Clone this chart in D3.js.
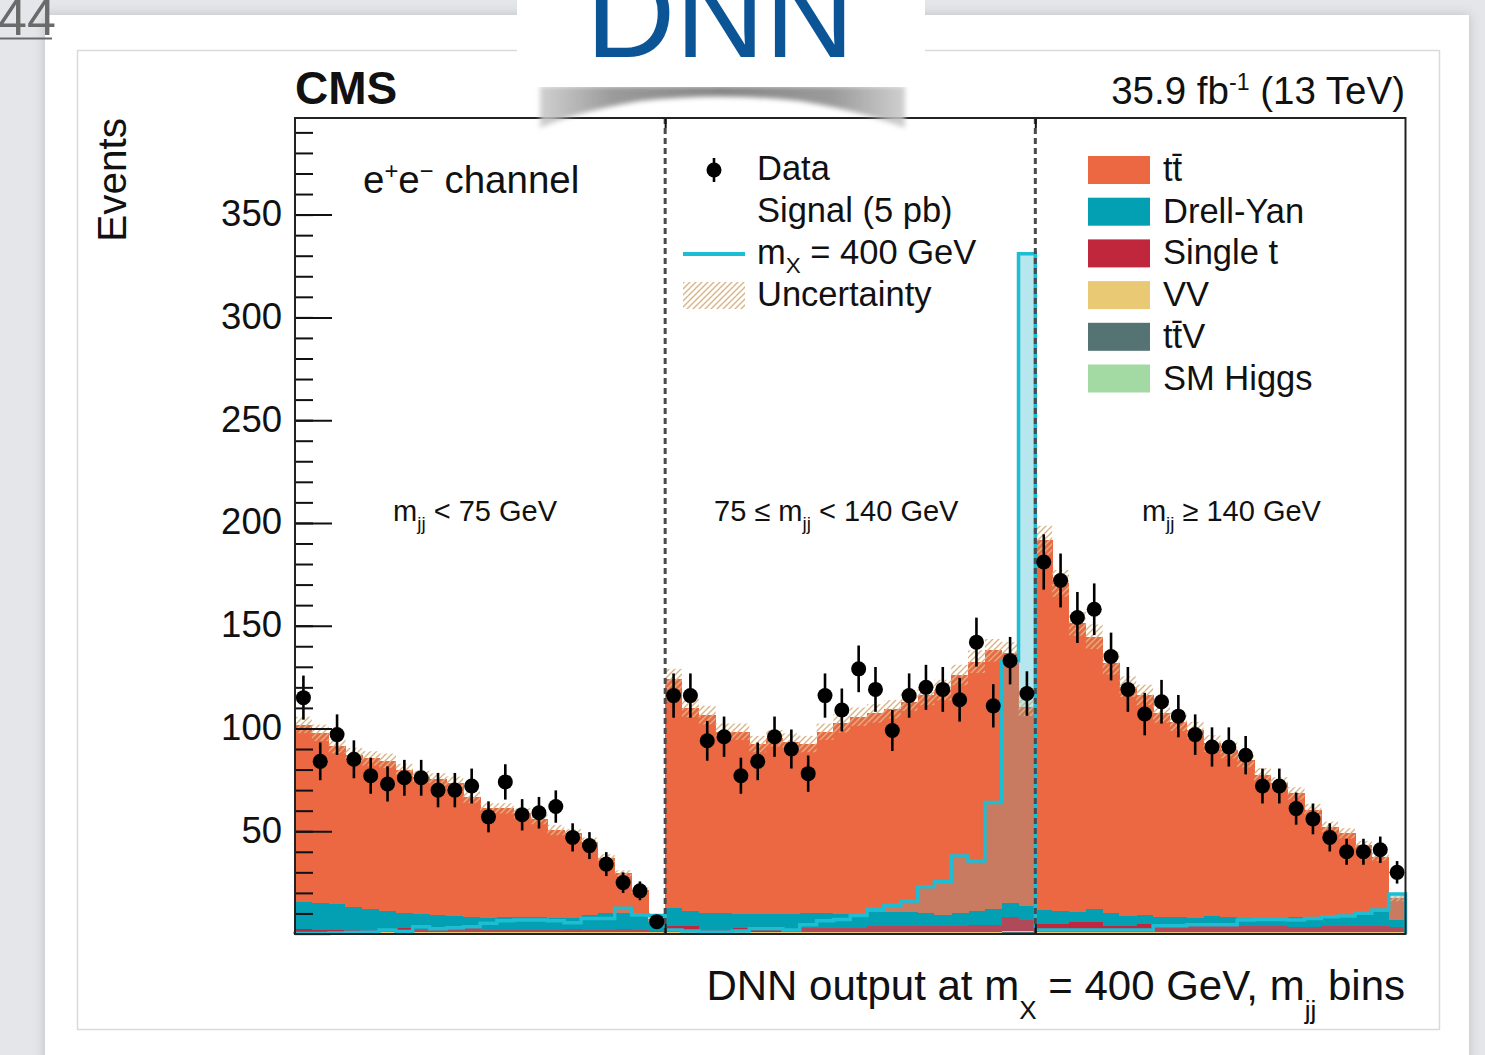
<!DOCTYPE html>
<html><head><meta charset="utf-8">
<script src="https://cdn.jsdelivr.net/npm/d3@7"></script>
<style>
html,body{margin:0;padding:0;background:#e4e6e9;}
svg{display:block;}
text{font-family:"Liberation Sans",Arial,Helvetica,sans-serif;}
</style></head>
<body>
<svg id="c" width="1485" height="1055"></svg>
<script>
// ---------------- data (66 bins: 3 m_jj regions x 22 DNN bins) ----------------
const dataEvents = [115,84,97,85,77,73,76,76,70,70,72,57,74,58,59,62,47,43,34,25,21,6,
  116,116,94,96,77,84,96,90,78,116,109,129,119,99,116,120,119,114,142,111,133,117,
  181,172,154,158,135,119,107,113,106,97,91,91,87,72,72,61,56,47,40,40,41,30];
const ttbar = [86,82.7,76.8,73.8,73.3,73,69.4,66.9,66,64.8,58.7,53.5,53,50.6,47.5,43,41.4,35.7,26.7,19.4,12.4,1.5,
  111.5,98.7,96.4,88.3,88.7,82.7,85.5,83.9,82.3,88.3,92.8,96.5,96.4,98.4,102.1,106.2,109.5,115.9,121.2,126,121.6,97,
  179.9,159.2,140.2,132.5,121.6,111.6,107.1,98.9,94.9,91.6,84,81.1,77,70.5,65.7,60,52.7,43.8,39.8,33.2,26.7,10.4];
const drellYan = [13.3,13.3,12.7,11.4,10.2,9.4,7.5,7.7,7.3,6.9,5.2,5.7,6.2,6.2,6.5,5.7,5.2,7.3,8.2,7.7,7.1,4.6,
  8.6,7.4,8.2,8.2,6.8,6.8,6.8,7.3,7.2,7.2,6.8,6.3,7.0,7.0,7.0,6.2,5.3,6.2,6.9,7.6,6.4,6.6,
  6.8,6.5,5.0,6.2,6.2,4.8,4.3,4.5,4.5,3.2,4.3,4.5,3.7,2.9,3.7,5.0,4.2,4.5,5.3,6.2,7.0,3.6];
const singleTop = [1.5,1,1,1,1,1,2,1,1,1,2,1,1,1,1,1,1.5,1,1,1.5,1,0.5,
  3,3,1,1,2,2,2,1.5,2,2,2,2,3,3,3,3,3,3,3.5,3.5,7,5.5,
  4,4,5,5,3,3,4,3,3,3.5,3.5,3,3,3,3,2.5,2.5,3,3,3,3,2.5];
const diboson = [0.5,0.5,0.5,0.5,0.5,0.5,0.5,0.5,0.5,0.5,0.5,0.5,0.5,0.5,0.5,0.5,0.5,0.5,0.5,0.5,0.5,0.5,
  0.5,0.5,0.5,0.5,0.5,0.5,0.5,0.5,0.5,0.5,0.5,0.5,0.5,0.5,0.5,0.5,0.5,0.5,0.5,0.5,0.5,0.5,
  0.5,0.5,0.5,0.5,0.5,0.5,0.5,0.5,0.5,0.5,0.5,0.5,0.5,0.5,0.5,0.5,0.5,0.5,0.5,0.5,0.5,0.5];
const ttV = [0.3,0.3,0.3,0.3,0.3,0.3,0.3,0.3,0.3,0.3,0.3,0.3,0.3,0.3,0.3,0.3,0.3,0.3,0.3,0.3,0.3,0.3,
  0.3,0.3,0.3,0.3,0.3,0.3,0.3,0.3,0.3,0.3,0.3,0.3,0.3,0.3,0.3,0.3,0.3,0.3,0.3,0.3,0.3,0.3,
  0.3,0.3,0.3,0.3,0.3,0.3,0.3,0.3,0.3,0.3,0.3,0.3,0.3,0.3,0.3,0.3,0.3,0.3,0.3,0.3,0.3,0.3];
const smHiggs = [0.1,0.1,0.1,0.1,0.1,0.1,0.1,0.1,0.1,0.1,0.1,0.1,0.1,0.1,0.1,0.1,0.1,0.1,0.1,0.1,0.1,0.1,
  0.1,0.1,0.1,0.1,0.1,0.1,0.1,0.1,0.1,0.1,0.1,0.1,0.1,0.1,0.1,0.1,0.1,0.1,0.1,0.1,0.7,0.7,
  0.1,0.1,0.1,0.1,0.1,0.1,0.1,0.1,0.1,0.1,0.1,0.1,0.1,0.1,0.1,0.1,0.1,0.1,0.1,0.1,0.1,0.1];
const signal400 = [0.2,0.2,0.5,0.8,1,2,1.2,3.5,2.5,3,3.5,5.2,6.5,6.8,6.8,6.5,5.5,7.6,7.6,12.5,9.2,9,
  2,1.5,1,1,1.5,2.5,2.5,2,4.5,6.5,7,9,12,14,16,23,25.5,38,35.5,64,133,331,
  2,2,2,2,2,2,2,4,4,4.5,4.5,4.5,6.8,7,7,6.8,7.6,8.4,8.8,10.1,11.7,19.5];
const bkgUnc = [4,4,3.5,3.5,3.5,3.5,3,3,3,3,3,2.5,2.5,2.5,2.5,2.5,2,2,2,1.5,1.5,1,
  5,4.5,4.5,4,4,4,4,4,4,4,4.5,4.5,4.5,4.5,4.5,5,5,5,5.5,5.5,5.5,4.5,
  7,6.5,6,6,5.5,5,5,4.5,4.5,4,4,4,3.5,3.5,3,3,3,2.5,2.5,2,2,1.5];
const regionEdges = [22, 44];
const regionLabels = [["m","jj"," < 75 GeV"],["75 \u2264 m","jj"," < 140 GeV"],["m","jj"," \u2265 140 GeV"]];
const yTicks = [50,100,150,200,250,300,350];
const bkgKeys = ["smHiggs","ttV","diboson","singleTop","drellYan","ttbar"];
const bkgNames = {ttbar:"tt\u0304", drellYan:"Drell-Yan", singleTop:"Single t", diboson:"VV", ttV:"tt\u0304V", smHiggs:"SM Higgs"};
const legendOrder = ["ttbar","drellYan","singleTop","diboson","ttV","smHiggs"];

// ---------------- styles ----------------
const colors = {ttbar:"#eb6842", drellYan:"#02a0b2", singleTop:"#c1273c", diboson:"#e9c974", ttV:"#557373", smHiggs:"#a3d9a3"};
const sigColor = "#1dbdd3", sigAbove = "#b6e6ee", sigOver = "#c97b62", sigOverLow = "#b04a5a", hatchColor = "#d9b385";

const svg = d3.select("#c");
const defs = svg.append("defs");
const pat = defs.append("pattern").attr("id","hatch").attr("patternUnits","userSpaceOnUse").attr("width",6).attr("height",6);
pat.append("path").attr("d","M-1,1 l2,-2 M0,6 l6,-6 M5,7 l2,-2").attr("stroke",hatchColor).attr("stroke-width",1.4);
const blur = defs.append("filter").attr("id","blur").attr("x","-20%").attr("y","-50%").attr("width","140%").attr("height","200%");
blur.append("feGaussianBlur").attr("stdDeviation",2.5);
const soft = defs.append("filter").attr("id","soft").attr("x","-5%").attr("y","-5%").attr("width","110%").attr("height","110%");
soft.append("feDropShadow").attr("dx",0).attr("dy",0).attr("stdDeviation",6).attr("flood-color","#000").attr("flood-opacity",0.18);
const sg = defs.append("linearGradient").attr("id","shadowGrad").attr("x1",0).attr("x2",1).attr("y1",0).attr("y2",0);
[[0,"#c8c8c8"],[0.2,"#8a8a8a"],[0.5,"#707070"],[0.8,"#8a8a8a"],[1,"#c8c8c8"]].forEach(s=>sg.append("stop").attr("offset",s[0]).attr("stop-color",s[1]));

// ---------------- slide background ----------------
svg.append("rect").attr("width",1485).attr("height",1055).attr("fill","#e4e6e9");
svg.append("rect").attr("x",45).attr("y",15).attr("width",1424).attr("height",1060).attr("fill","#fff").attr("filter","url(#soft)");
svg.append("text").attr("x",-2).attr("y",35).attr("font-size",52).attr("fill","#6a6a6a").attr("font-family","Lato, 'Open Sans', sans-serif").attr("font-weight",300).text("44");
svg.append("line").attr("x1",0).attr("x2",52).attr("y1",38.5).attr("y2",38.5).attr("stroke","#6a6a6a").attr("stroke-width",2);
svg.append("rect").attr("x",77.5).attr("y",50.5).attr("width",1362).attr("height",979).attr("fill","#fff").attr("stroke","#dadada").attr("stroke-width",1.5);

// ---------------- scales ----------------
const nBins = dataEvents.length;
const x = d3.scaleLinear().domain([0, nBins]).range([295, 1405.5]);
const y = d3.scaleLinear().domain([0, 397]).range([934, 118]);

// ---------------- stack ----------------
const rows = d3.range(nBins).map(i => ({i, ttbar:ttbar[i], drellYan:drellYan[i], singleTop:singleTop[i], diboson:diboson[i], ttV:ttV[i], smHiggs:smHiggs[i]}));
const stacked = d3.stack().keys(bkgKeys)(rows);
const total = stacked[stacked.length-1].map(d => d[1]);
const dyTop = stacked[bkgKeys.indexOf("drellYan")].map(d => d[1]);
const stTop = stacked[bkgKeys.indexOf("singleTop")].map(d => d[1]);
const stBot = stacked[bkgKeys.indexOf("singleTop")].map(d => d[0]);

const plot = svg.append("g");
stacked.forEach(layer => {
  plot.append("g").attr("fill", colors[layer.key]).attr("shape-rendering","crispEdges")
    .selectAll("rect").data(layer).join("rect")
    .attr("x", (d,i) => x(i)).attr("width", (d,i) => x(i+1)-x(i)+0.5)
    .attr("y", d => y(d[1])).attr("height", d => Math.max(0, y(d[0]) - y(d[1])));
});

// signal fill (blended over ttbar / single t, light cyan above stack)
const sigIdx = d3.range(nBins);
plot.append("g").attr("fill", sigOverLow).attr("shape-rendering","crispEdges")
  .selectAll("rect").data(sigIdx.filter(i => signal400[i] > stTop[i])).join("rect")
  .attr("x", i => x(i)).attr("width", i => x(i+1)-x(i)+0.5)
  .attr("y", i => y(stTop[i])).attr("height", i => y(stBot[i]) - y(stTop[i]));
plot.append("g").attr("fill", sigOver).attr("shape-rendering","crispEdges")
  .selectAll("rect").data(sigIdx.filter(i => signal400[i] > dyTop[i])).join("rect")
  .attr("x", i => x(i)).attr("width", i => x(i+1)-x(i)+0.5)
  .attr("y", i => y(Math.min(signal400[i], total[i]))).attr("height", i => y(dyTop[i]) - y(Math.min(signal400[i], total[i])));
plot.append("g").attr("fill", sigAbove).attr("shape-rendering","crispEdges")
  .selectAll("rect").data(sigIdx.filter(i => signal400[i] > total[i])).join("rect")
  .attr("x", i => x(i)).attr("width", i => x(i+1)-x(i))
  .attr("y", i => y(signal400[i])).attr("height", i => y(total[i]) - y(signal400[i]));

// uncertainty hatch
plot.append("g").selectAll("rect").data(sigIdx).join("rect")
  .attr("x", i => x(i)).attr("width", i => x(i+1)-x(i))
  .attr("y", i => y(total[i] + bkgUnc[i])).attr("height", i => y(Math.max(0,total[i]-bkgUnc[i])) - y(total[i] + bkgUnc[i]))
  .attr("fill","url(#hatch)");

// signal outline
const sigPts = [[0,0]].concat(sigIdx.map(i => [i, signal400[i]]), [[nBins, signal400[nBins-1]],[nBins,0]]);
plot.append("path").attr("d", d3.line().x(d => x(d[0])).y(d => y(d[1])).curve(d3.curveStepAfter)(sigPts))
  .attr("fill","none").attr("stroke",sigColor).attr("stroke-width",3.5);

// region separators
plot.selectAll("line.sep").data(regionEdges).join("line").attr("class","sep")
  .attr("x1", d => x(d)).attr("x2", d => x(d)).attr("y1", y(0)).attr("y2", y(397))
  .attr("stroke","#4a4a4a").attr("stroke-width",3).attr("stroke-dasharray","6,4");

// data
const dg = plot.append("g");
dg.selectAll("line").data(sigIdx).join("line")
  .attr("x1", i => x(i+0.5)).attr("x2", i => x(i+0.5))
  .attr("y1", i => y(dataEvents[i] + Math.sqrt(dataEvents[i]))).attr("y2", i => y(Math.max(0, dataEvents[i] - Math.sqrt(dataEvents[i]))))
  .attr("stroke","#000").attr("stroke-width",2.6);
dg.selectAll("circle").data(sigIdx).join("circle")
  .attr("cx", i => x(i+0.5)).attr("cy", i => y(dataEvents[i])).attr("r",7.5).attr("fill","#000");

// ---------------- axes ----------------
const axMinor = svg.append("g").attr("transform","translate(295,0)").call(d3.axisRight(y).tickValues(d3.range(10,397,10)).tickSize(18).tickFormat(""));
const axMajor = svg.append("g").attr("transform","translate(295,0)").call(d3.axisRight(y).tickValues(yTicks).tickSize(37).tickFormat(""));
const axLab = svg.append("g").attr("transform","translate(295,0)").call(d3.axisLeft(y).tickValues(yTicks).tickSize(0).tickPadding(13));
const axTop = svg.append("g").attr("transform","translate(0,118)").call(d3.axisBottom(x).tickValues(regionEdges).tickSize(10).tickFormat(""));
const axBot = svg.append("g").attr("transform","translate(0,934)").call(d3.axisTop(x).tickValues(regionEdges).tickSize(10).tickFormat(""));
[axMinor, axMajor, axLab, axTop, axBot].forEach(a => a.select(".domain").remove());
[axMinor, axMajor, axTop, axBot].forEach(a => a.selectAll("line").attr("stroke","#111").attr("stroke-width",2));
axLab.selectAll("text").attr("font-size",36.5).attr("fill","#111").attr("font-family","'Liberation Sans',Arial,sans-serif").attr("dy","0.3em");
svg.append("rect").attr("x",295).attr("y",118).attr("width",x(nBins)-295).attr("height",816)
  .attr("fill","none").attr("stroke","#222").attr("stroke-width",2);

// ---------------- texts ----------------
function rich(parent, xx, yy, parts, size, anchor) {
  const t = parent.append("text").attr("x",xx).attr("y",yy).attr("font-size",size).attr("fill","#111").attr("text-anchor",anchor||"start");
  let cur = 0;
  parts.forEach(p => {
    const shift = p.sub ? p.sub : 0;
    const ts = t.append("tspan").text(p.t);
    if (p.s) ts.attr("font-size", size*p.s);
    ts.attr("dy", shift - cur);
    cur = shift;
  });
  return t;
}
svg.append("text").attr("x",295).attr("y",104).attr("font-size",46).attr("font-weight","bold").attr("fill","#111").text("CMS");
rich(svg, 1405, 104, [{t:"35.9 fb"},{t:"-1",s:0.6,sub:-14},{t:" (13 TeV)"}], 38.5, "end");
svg.append("text").attr("transform","translate(126,118) rotate(-90)").attr("text-anchor","end").attr("font-size",40.5).attr("fill","#111").text("Events");
rich(svg, 363, 193, [{t:"e"},{t:"+",s:0.62,sub:-14},{t:"e"},{t:"\u2212",s:0.62,sub:-14},{t:" channel"}], 38.5);
rich(svg, 1405, 1000, [{t:"DNN output at m"},{t:"X",s:0.62,sub:19},{t:" = 400 GeV, m"},{t:"jj",s:0.62,sub:19},{t:" bins"}], 42, "end");

// region labels
const regionCenters = [x(11) - 5, x(33) - 14, x(55) + 11];
regionLabels.forEach((lab, k) => {
  rich(svg, regionCenters[k], 521, [{t:lab[0]},{t:lab[1],s:0.65,sub:9},{t:lab[2]}], 29, "middle");
});

// legend left
const lg = svg.append("g");
lg.append("line").attr("x1",714).attr("x2",714).attr("y1",158).attr("y2",182).attr("stroke","#000").attr("stroke-width",2.6);
lg.append("circle").attr("cx",714).attr("cy",170).attr("r",7.5).attr("fill","#000");
lg.append("line").attr("x1",683).attr("x2",745).attr("y1",254).attr("y2",254).attr("stroke",sigColor).attr("stroke-width",4);
lg.append("rect").attr("x",683).attr("y",282).attr("width",62).attr("height",27).attr("fill","url(#hatch)");
rich(lg, 757, 180, [{t:"Data"}], 34.5);
rich(lg, 757, 222, [{t:"Signal (5 pb)"}], 34.5);
rich(lg, 757, 264, [{t:"m"},{t:"X",s:0.65,sub:9},{t:" = 400 GeV"}], 34.5);
rich(lg, 757, 306, [{t:"Uncertainty"}], 34.5);

// legend right
legendOrder.forEach((k, i) => {
  const yy = 170 + i*41.7;
  svg.append("rect").attr("x",1088).attr("y",yy-14).attr("width",62).attr("height",28).attr("fill",colors[k]);
  svg.append("text").attr("x",1163).attr("y",yy+11).attr("font-size",34.5).attr("fill","#111").text(bkgNames[k]);
});

// ---------------- slide title card ----------------
svg.append("path").attr("d","M540,86 L905,86 L905,128 Q865,112 800,101 Q720,92 640,101 Q575,112 540,128 Z")
  .attr("fill","url(#shadowGrad)").attr("opacity",0.85).attr("filter","url(#blur)");
svg.append("rect").attr("x",517).attr("y",-30).attr("width",408).attr("height",117).attr("rx",14).attr("fill","#fff");
svg.append("text").attr("x",720).attr("y",57).attr("text-anchor","middle").attr("font-size",124)
  .attr("font-family","Lato, 'Open Sans', sans-serif").attr("font-weight",300).attr("fill","#0b5597").text("DNN");
</script>
</body></html>
